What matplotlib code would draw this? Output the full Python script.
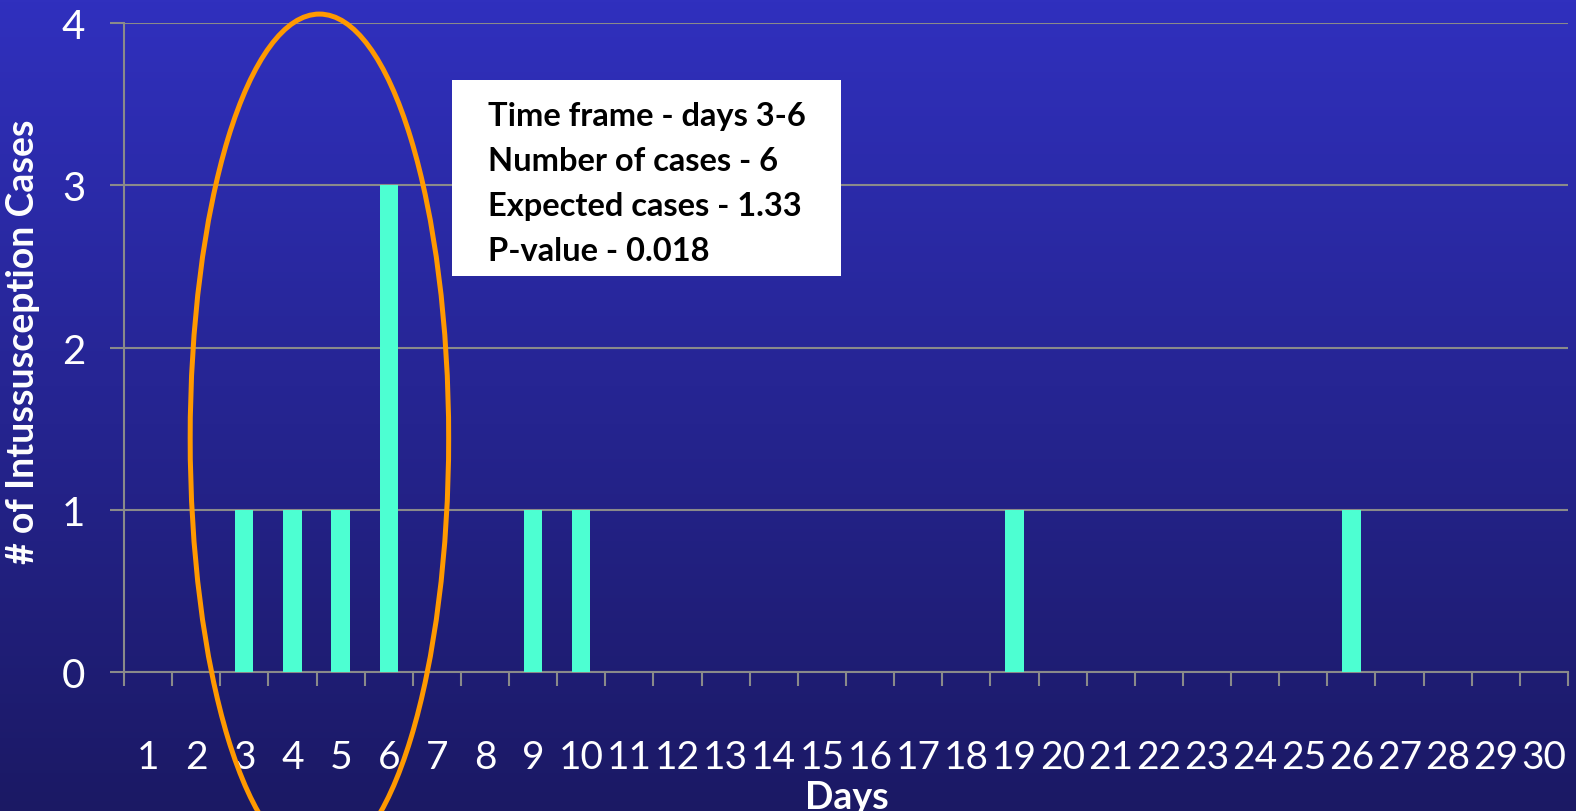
import matplotlib.pyplot as plt
from matplotlib.patches import Ellipse, Rectangle
from matplotlib.ticker import FixedLocator
import numpy as np

# data
days = list(range(1, 31))
cases = [0, 0, 1, 1, 1, 3, 0, 0, 1, 1, 0, 0, 0, 0, 0, 0, 0, 0, 1, 0,
         0, 0, 0, 0, 0, 1, 0, 0, 0, 0]
y_ticks = [0, 1, 2, 3, 4]
box_lines = ['Time frame - days 3-6',
             'Number of cases - 6',
             'Expected cases - 1.33',
             'P-value - 0.018']
highlight = (3, 6)   # days inside the ellipse

W, H = 1576, 812
FONT = 'Lato'
GRID = '#8a8a8a'


# pixel (top-down) -> figure fraction
def fx(x):
    return x / W


def fy(y):
    return 1 - y / H


fig = plt.figure(figsize=(W / 100, H / 100), dpi=100)

# gradient background
bg = fig.add_axes([0, 0, 1, 1], zorder=-1)
top = np.array([48, 48, 190]) / 255
bottom = np.array([27, 25, 100]) / 255
t = np.linspace(0, 1, 256)[:, None]
grad = top * (1 - t) + bottom * t
bg.imshow(grad[:, None, :], aspect='auto', extent=[0, 1, 0, 1])
bg.axis('off')

ax = fig.add_axes([fx(124), fy(673), fx(1568) - fx(124), fy(24) - fy(673)])
ax.set_facecolor('none')

ax.bar(days, cases, width=0.38, color='#4dffd2', zorder=3)

ax.set_xlim(0.5, 30.5)
ax.set_ylim(0, 4)

# category axis: ticks on boundaries, labels in centres
ax.xaxis.set_major_locator(FixedLocator(np.arange(0.5, 31, 1)))
ax.xaxis.set_minor_locator(FixedLocator(days))
ax.set_xticklabels([])
ax.set_xticklabels([str(d) for d in days], minor=True,
                   fontsize=28, color='white', family=FONT)
ax.tick_params(axis='x', which='major', direction='out', length=10,
               width=1.5, color=GRID)
ax.tick_params(axis='x', which='minor', length=0, pad=48)

ax.set_yticks(y_ticks)
ax.set_yticklabels([str(v) for v in y_ticks], fontsize=29, color='white',
                   family=FONT)
ax.tick_params(axis='y', direction='out', length=10, width=1.5,
               color=GRID, pad=18)

ax.grid(axis='y', color=GRID, linewidth=1.5, zorder=1)
for s in ['top', 'right']:
    ax.spines[s].set_visible(False)
for s in ['left', 'bottom']:
    ax.spines[s].set_color(GRID)
    ax.spines[s].set_linewidth(1.5)

ax.set_ylabel('# of Intussusception Cases', fontsize=27, fontweight='bold',
              color='white', family=FONT)
ax.yaxis.set_label_coords((40 - 124) / 1444, (673 - 342) / 649)
ax.set_xlabel('Days', fontsize=27, fontweight='bold', color='white',
              family=FONT)
ax.xaxis.set_label_coords((847 - 124) / 1444, -(781 - 673) / 649)

# ellipse around days 3-6
cx = (highlight[0] + highlight[1]) / 2 + 0.06
ell = Ellipse((cx, 1.44), width=5.37, height=5.23, fill=False,
              edgecolor='#ff9900', linewidth=3.6, clip_on=False, zorder=4)
ax.add_patch(ell)

# white info box
fig.patches.append(Rectangle((fx(452), fy(277)), fx(841) - fx(452),
                             fy(81) - fy(277), transform=fig.transFigure,
                             facecolor='white', edgecolor='none', zorder=5))
for i, line in enumerate(box_lines):
    fig.text(fx(488), fy(126 + 45 * i), line, fontsize=23.5,
             fontweight='bold', color='black', family=FONT,
             va='baseline', ha='left', zorder=6)

fig.savefig('out.png', dpi=100)
